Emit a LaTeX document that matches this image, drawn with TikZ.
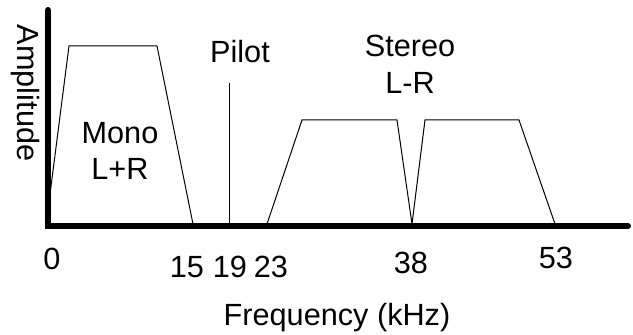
\documentclass[tikz,border=0pt]{standalone}
\usepackage{fontspec}
\setmainfont{Liberation Sans}
\begin{document}
\begin{tikzpicture}[x=0.75pt, y=-0.75pt,
    axis/.style={line width=4.5pt, line cap=round, line join=miter},
    band/.style={line width=0.75pt},
    lbl/.style={font=\fontsize{23}{27.5}\selectfont, inner sep=0pt, align=center}]
    \useasboundingbox (0, 0) rectangle (633, 335);

    \coordinate (top) at (48, 10);
    \coordinate (origin) at (48, 226);
    \coordinate (end) at (628, 226);
    \draw[axis] (top) -- (origin) -- (end);

    % mono band
    \draw[band] (49, 202) -- (69, 46) -- (157, 46) -- (193, 224);
    % pilot tone
    \draw[band] (229, 83) -- (229, 224);
    % stereo bands
    \draw[band] (267, 224) -- (302, 120) -- (397, 120) -- (412, 224)
        -- (425, 120) -- (519, 120) -- (555, 224);

    \node[lbl] (pilot) at (240, 52) {Pilot};
    \node[lbl] (mono) at (120, 151) {Mono\\L+R};
    \node[lbl] (stereo) at (410, 64) {Stereo\\L-R};
    \node[lbl, rotate=-90] (amp) at (25, 93) {Amplitude};

    \node[lbl] (f-0) at (52, 259) {0};
    \node[lbl] (f-15) at (187, 267) {15};
    \node[lbl] (f-19) at (230, 267) {19};
    \node[lbl] (f-23) at (271, 267) {23};
    \node[lbl] (f-38) at (411, 263) {38};
    \node[lbl] (f-53) at (556, 258) {53};
    \node[lbl] (freq) at (337, 318) {Frequency (kHz)};
\end{tikzpicture}
\end{document}
